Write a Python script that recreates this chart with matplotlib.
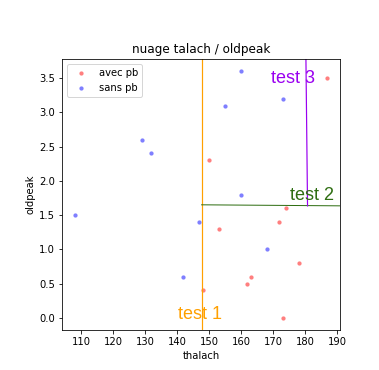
import matplotlib
matplotlib.use("Agg")
import matplotlib.pyplot as plt

# patients avec probleme
thalach_avec = [148, 150, 153, 162, 163, 172, 173, 174, 178, 187]
oldpeak_avec = [0.4, 2.3, 1.3, 0.5, 0.6, 1.4, 0.0, 1.6, 0.8, 3.5]

# patients sans probleme
thalach_sans = [108, 129, 132, 142, 147, 155, 160, 160, 168, 173]
oldpeak_sans = [1.5, 2.6, 2.4, 0.6, 1.4, 3.1, 3.6, 1.8, 1.0, 3.2]

# seuils des tests
SEUIL_TEST1 = 147.7
SEUIL_TEST2 = (1.65, 1.635)
SEUIL_TEST3 = (180.3, 180.8)

fig = plt.figure(figsize=(379/72, 370/72), dpi=72)
ax = fig.add_axes([0.1636, 0.108, 0.7335, 0.7324])

ax.scatter(thalach_avec, oldpeak_avec, s=18, linewidths=0, color="red", alpha=0.5, label="avec pb")
ax.scatter(thalach_sans, oldpeak_sans, s=18, linewidths=0, color="blue", alpha=0.5, label="sans pb")
ax.set_xlim(104.05, 190.95)
ax.set_ylim(-0.18, 3.78)
ax.set_title("nuage talach / oldpeak")
ax.set_xlabel("thalach")
ax.set_ylabel("oldpeak")
ax.legend(loc="upper left")

# lignes de decision
ax.axvline(SEUIL_TEST1, color="#FFA000", linewidth=1.2)
ax.plot([SEUIL_TEST1, 190.95], list(SEUIL_TEST2), color="#2F6E12", linewidth=1.0)
ax.plot(list(SEUIL_TEST3), [3.78, SEUIL_TEST2[1]], color="#9A00F0", linewidth=1.2)

lab = dict(family=["Liberation Sans", "DejaVu Sans"], fontsize=18)
ax.text(140.4, 0.05, "test 1", color="#FFA000", va="center", **lab)
ax.text(175.4, 1.79, "test 2", color="#2F6E12", va="center", **lab)
ax.text(169.5, 3.49, "test 3", color="#9A00F0", va="center", **lab)

fig.savefig("out.png", dpi=72)
